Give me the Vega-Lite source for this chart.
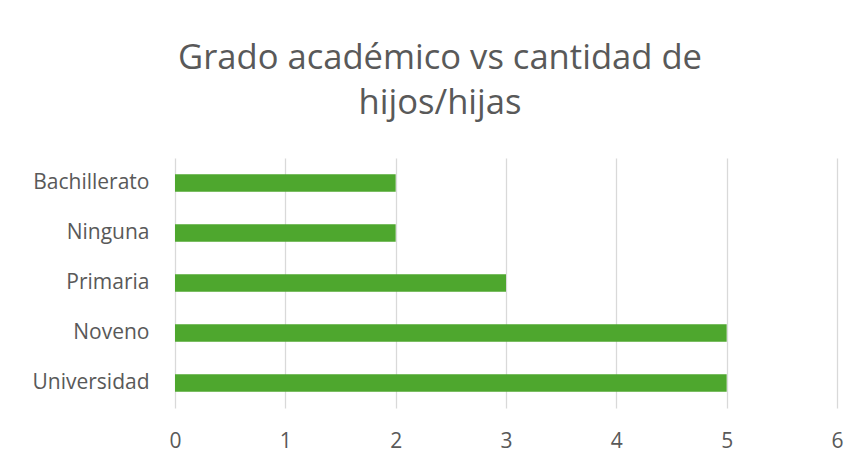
{
  "$schema": "https://vega.github.io/schema/vega-lite/v6.json",
  "width": 662,
  "height": 250,
  "autosize": {"type": "none"},
  "padding": {"left": 175, "top": 158, "right": 23, "bottom": 53},
  "background": "white",
  "title": {
    "text": ["Grado académico vs cantidad de", "hijos/hijas"],
    "anchor": "middle",
    "dx": -66,
    "offset": 36,
    "fontSize": 34.6,
    "font": "Open Sans",
    "fontWeight": "normal",
    "color": "#595959",
    "lineHeight": 45
  },
  "data": {
    "values": [
      {"grado": "Bachillerato", "cantidad": 2},
      {"grado": "Ninguna", "cantidad": 2},
      {"grado": "Primaria ", "cantidad": 3},
      {"grado": "Noveno", "cantidad": 5},
      {"grado": "Universidad", "cantidad": 5}
    ]
  },
  "mark": {"type": "bar", "color": "#4ea72e"},
  "encoding": {
    "y": {
      "field": "grado",
      "type": "nominal",
      "sort": null,
      "scale": {"paddingInner": 0.65, "paddingOuter": 0.325},
      "axis": {
        "title": null,
        "domain": false,
        "ticks": false,
        "labelPadding": 26,
        "labelFontSize": 21,
        "labelFont": "Open Sans",
        "labelColor": "#595959"
      }
    },
    "x": {
      "field": "cantidad",
      "type": "quantitative",
      "scale": {"domain": [0, 6], "nice": false},
      "axis": {
        "title": null,
        "values": [0, 1, 2, 3, 4, 5, 6],
        "domain": false,
        "ticks": false,
        "grid": true,
        "gridColor": "#d9d9d9",
        "gridWidth": 1.3,
        "labelFlush": false,
        "labelPadding": 22,
        "labelFontSize": 21,
        "labelFont": "Open Sans",
        "labelColor": "#595959"
      }
    }
  },
  "config": {"view": {"stroke": null}}
}
